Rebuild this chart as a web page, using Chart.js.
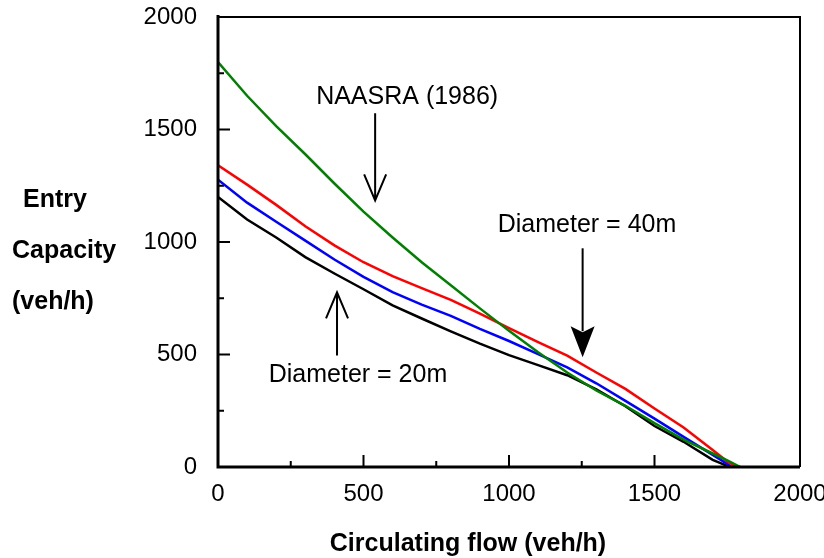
<!DOCTYPE html>
<html>
<head>
<meta charset="utf-8">
<script src="https://cdn.jsdelivr.net/npm/chart.js@4.4.1/dist/chart.umd.min.js"></script>
<style>
body { margin: 0; background: #fff; }
#wrap { width: 824px; height: 558px; position: relative; }
</style>
</head>
<body>
<div id="wrap"><canvas id="capChart"></canvas></div>
<script>
// circulating flow (veh/h) where the curves were read
const flow = [0, 100, 200, 300, 400, 500, 600, 700, 800, 900, 1000, 1100, 1200, 1300, 1400, 1500, 1600, 1700, 1750];
// entry capacity (veh/h)
const naasra = [1800, 1650, 1515, 1390, 1260, 1135, 1020, 910, 808, 705, 605, 510, 420, 340, 272, 195, 122, 60, 30];
const dia40  = [1341, 1255, 1165, 1070, 985, 910, 848, 795, 743, 682, 617, 555, 495, 420, 347, 260, 176, 76, 25];
const dia30  = [1277, 1175, 1090, 1006, 922, 845, 777, 722, 672, 614, 560, 502, 443, 372, 294, 215, 134, 54, 14];
const dia20  = [1200, 1100, 1020, 933, 860, 790, 718, 660, 603, 548, 497, 453, 408, 345, 270, 182, 112, 32, 5];
// flow at which each curve hits zero capacity
const zeroFlow = [1795, 1782, 1765, 1756];

const majorTicks = [0, 500, 1000, 1500, 2000];
const minorTicks = [250, 750, 1250, 1750];

const FONT = 'Liberation Sans, Arial, sans-serif';

function toPoints(values, endFlow) {
    const pts = values.map((v, i) => ({ x: flow[i], y: v }));
    pts.push({ x: endFlow, y: 0 });
    return pts;
}

// labels and arrows, placed in data units
const notes = [
    { text: 'NAASRA (1986)', tx: 650, ty: 1644, ax: 540, from: 1572, to: 1185, head: 'open' },
    { text: 'Diameter = 40m', tx: 1268, ty: 1074, ax: 1253, from: 972, to: 488, head: 'filled' },
    { text: 'Diameter = 20m', tx: 481, ty: 408, ax: 409, from: 496, to: 776, head: 'open' }
];

const framePlugin = {
    id: 'frame',
    beforeDatasetsDraw(chart) {
        const { ctx, chartArea: a, scales: { x, y } } = chart;
        ctx.save();
        ctx.strokeStyle = '#000';
        ctx.lineWidth = 2;
        ctx.beginPath();
        majorTicks.slice(1, -1).forEach(v => {
            const px = x.getPixelForValue(v);
            ctx.moveTo(px, a.bottom);
            ctx.lineTo(px, a.bottom - 12);
            const py = y.getPixelForValue(v);
            ctx.moveTo(a.left, py);
            ctx.lineTo(a.left + 12, py);
        });
        minorTicks.forEach(v => {
            const px = x.getPixelForValue(v);
            ctx.moveTo(px, a.bottom);
            ctx.lineTo(px, a.bottom - 6);
            const py = y.getPixelForValue(v);
            ctx.moveTo(a.left, py);
            ctx.lineTo(a.left + 6, py);
        });
        ctx.stroke();
        ctx.restore();
    },
    afterDraw(chart) {
        const { ctx, chartArea: a, scales: { x, y } } = chart;
        ctx.save();
        ctx.strokeStyle = '#000';
        ctx.fillStyle = '#000';

        // box: thin top/right, heavy left/bottom
        ctx.lineWidth = 2;
        ctx.beginPath();
        ctx.moveTo(a.left, a.top);
        ctx.lineTo(a.right, a.top);
        ctx.lineTo(a.right, a.bottom);
        ctx.stroke();
        ctx.lineWidth = 3;
        ctx.beginPath();
        ctx.moveTo(a.left, a.top - 2);
        ctx.lineTo(a.left, a.bottom);
        ctx.lineTo(a.right, a.bottom);
        ctx.stroke();

        // annotations
        ctx.font = '25px ' + FONT;
        ctx.textAlign = 'center';
        ctx.textBaseline = 'middle';
        notes.forEach(n => {
            ctx.fillText(n.text, x.getPixelForValue(n.tx), y.getPixelForValue(n.ty));
            const ax = x.getPixelForValue(n.ax);
            const fy = y.getPixelForValue(n.from);
            const tipY = y.getPixelForValue(n.to);
            const dir = tipY > fy ? 1 : -1;
            ctx.lineWidth = 2;
            if (n.head === 'filled') {
                ctx.beginPath();
                ctx.moveTo(ax, fy);
                ctx.lineTo(ax, tipY - dir * 26);
                ctx.stroke();
                ctx.beginPath();
                ctx.moveTo(ax, tipY);
                ctx.lineTo(ax - 12, tipY - dir * 31);
                ctx.lineTo(ax, tipY - dir * 25);
                ctx.lineTo(ax + 12, tipY - dir * 31);
                ctx.closePath();
                ctx.fill();
            } else {
                ctx.beginPath();
                ctx.moveTo(ax, fy);
                ctx.lineTo(ax, tipY);
                ctx.moveTo(ax - 11, tipY - dir * 26);
                ctx.lineTo(ax, tipY);
                ctx.lineTo(ax + 11, tipY - dir * 26);
                ctx.stroke();
            }
        });

        // axis titles
        ctx.font = 'bold 25px ' + FONT;
        ctx.textAlign = 'left';
        ctx.fillText('Entry', 23, 200);
        ctx.fillText('Capacity', 12, 251);
        ctx.fillText('(veh/h)', 12, 302);
        ctx.textAlign = 'center';
        ctx.fillText('Circulating flow (veh/h)', 468, 544);
        ctx.restore();
    }
};

const data = {
    datasets: [
        { label: 'NAASRA (1986)', data: toPoints(naasra, zeroFlow[0]), borderColor: '#008000' },
        { label: 'Diameter = 40m', data: toPoints(dia40, zeroFlow[1]), borderColor: '#ff0000' },
        { label: 'Diameter = 30m', data: toPoints(dia30, zeroFlow[2]), borderColor: '#0000ff' },
        { label: 'Diameter = 20m', data: toPoints(dia20, zeroFlow[3]), borderColor: '#000000' }
    ]
};

const tickFont = { family: FONT, size: 24 };
const plainLabel = v => String(v);

const options = {
    responsive: true,
    maintainAspectRatio: false,
    animation: false,
    layout: {
        padding: { top: 17, right: 24, left: 0, bottom: 0 }
    },
    elements: {
        line: { borderWidth: 2.5, tension: 0, fill: false },
        point: { radius: 0 }
    },
    scales: {
        x: {
            type: 'linear',
            min: 0,
            max: 2000,
            grid: { display: false, drawTicks: false },
            border: { display: false },
            ticks: { stepSize: 500, color: '#000', font: tickFont, padding: 13, maxRotation: 0, autoSkip: false, callback: plainLabel },
            afterFit(s) { s.height = 91; s.paddingLeft = 0; s.paddingRight = 0; }
        },
        y: {
            min: 0,
            max: 2000,
            grid: { display: false, drawTicks: false },
            border: { display: false },
            ticks: { stepSize: 500, color: '#000', font: tickFont, padding: 21, callback: plainLabel },
            afterFit(s) { s.width = 218; s.paddingTop = 0; s.paddingBottom = 0; }
        }
    },
    plugins: {
        legend: { display: false },
        tooltip: { enabled: false }
    }
};

new Chart(document.getElementById('capChart'), {
    type: 'line',
    data: data,
    options: options,
    plugins: [framePlugin]
});
</script>
</body>
</html>
